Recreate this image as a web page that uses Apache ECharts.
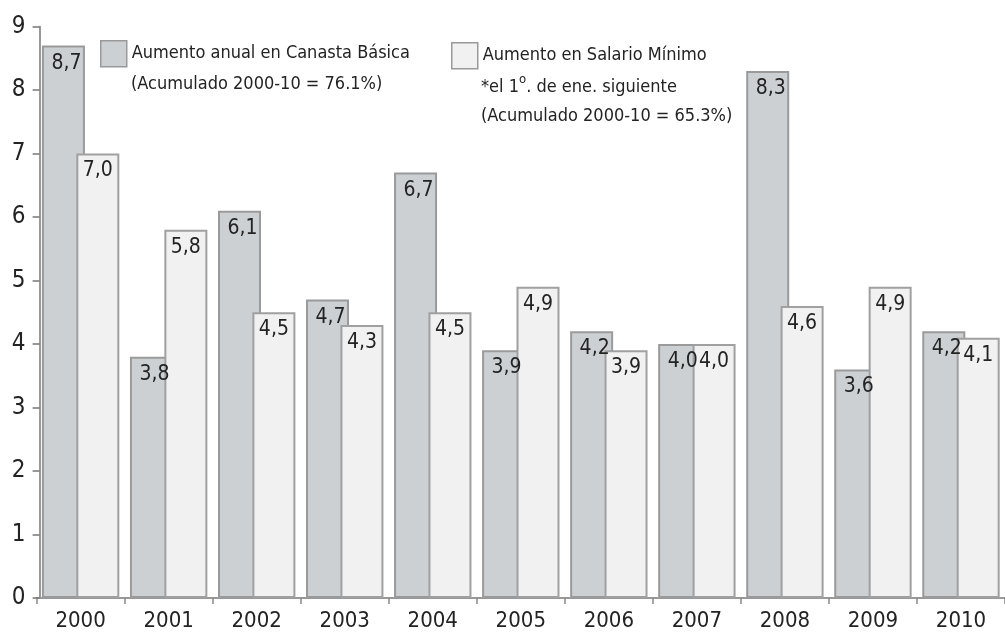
<!DOCTYPE html>
<html>
<head>
<meta charset="utf-8">
<script src="https://cdn.jsdelivr.net/npm/echarts@6/dist/echarts.min.js"></script>
<style>
html,body{margin:0;padding:0;background:#fff;}
#c{width:1005px;height:635px;}
</style>
</head>
<body>
<div id="c"></div>
<script>
var years = ['2000','2001','2002','2003','2004','2005','2006','2007','2008','2009','2010'];
var canasta = [8.7, 3.8, 6.1, 4.7, 6.7, 3.9, 4.2, 4.0, 8.3, 3.6, 4.2];
var salario = [7.0, 5.8, 4.5, 4.3, 4.5, 4.9, 3.9, 4.0, 4.6, 4.9, 4.1];
var yTicks = [0, 1, 2, 3, 4, 5, 6, 7, 8, 9];
var nameCanasta = 'Aumento anual en Canasta Básica';
var nameSalario = 'Aumento en Salario Mínimo';
var legendCanasta = ['(Acumulado 2000-10 = 76.1%)'];
var legendSalario = ['*el 1{s|o}. de ene. siguiente', '(Acumulado 2000-10 = 65.3%)'];

var FONT = "'DejaVu Sans Condensed', 'Liberation Sans Narrow', sans-serif";
var TXT = '#232323';
var fmt = function (p) { return p.value.toFixed(1).replace('.', ','); };

var chart = echarts.init(document.getElementById('c'), null, {renderer: 'canvas'});
chart.setOption({
  animation: false,
  backgroundColor: '#ffffff',
  textStyle: {fontFamily: FONT},
  grid: {left: 36.6, top: 26.5, width: 972.5, height: 571.5},
  legend: [
    {
      data: [nameCanasta],
      left: 100, top: 40, padding: 0,
      itemWidth: 26, itemHeight: 26,
      icon: 'rect',
      itemStyle: {borderColor: '#999', borderWidth: 1.5},
      textStyle: {fontFamily: FONT, fontSize: 18, color: TXT}
    },
    {
      data: [nameSalario],
      left: 451, top: 42, padding: 0,
      itemWidth: 26, itemHeight: 26,
      icon: 'rect',
      itemStyle: {borderColor: '#999', borderWidth: 1.5},
      textStyle: {fontFamily: FONT, fontSize: 18, color: TXT}
    }
  ],
  graphic: [
    {
      type: 'text', left: 131, top: 70,
      style: {text: legendCanasta.join('\n'), font: '18px ' + FONT, fill: TXT, lineHeight: 28}
    },
    {
      type: 'text', left: 481, top: 73,
      style: {text: legendSalario.join('\n'), font: '18px ' + FONT, fill: TXT, lineHeight: 29,
        rich: {s: {fontFamily: FONT, fontSize: 13, fill: TXT, verticalAlign: 'top', lineHeight: 20}}}
    }
  ],
  xAxis: {
    type: 'category',
    data: years,
    axisLine: {lineStyle: {color: '#999', width: 2}},
    axisTick: {show: true, interval: 0, length: 6, lineStyle: {color: '#888', width: 1.5}},
    axisLabel: {fontFamily: FONT, fontSize: 22, color: TXT, margin: 12, interval: 0},
    splitLine: {show: false}
  },
  yAxis: {
    type: 'value',
    min: yTicks[0], max: yTicks[yTicks.length - 1], interval: 1,
    offset: -3,
    axisLine: {show: true, lineStyle: {color: '#777', width: 1.5}},
    axisTick: {show: true, length: 7, lineStyle: {color: '#777', width: 1.5}},
    axisLabel: {fontFamily: FONT, fontSize: 24, color: TXT, margin: 14},
    splitLine: {show: false}
  },
  series: [
    {
      name: nameCanasta,
      type: 'bar',
      data: canasta,
      barWidth: 43,
      barGap: '-20%',
      itemStyle: {color: '#cdd0d3', borderColor: '#9a9a9a', borderWidth: 2},
      label: {show: true, position: 'insideTop', distance: 7, offset: [3, 0], formatter: fmt,
        fontFamily: FONT, fontSize: 21, color: TXT}
    },
    {
      name: nameSalario,
      type: 'bar',
      data: salario,
      barWidth: 43,
      barGap: '-20%',
      itemStyle: {color: '#f1f1f1', borderColor: '#a0a0a0', borderWidth: 2},
      label: {show: true, position: 'insideTop', distance: 7, formatter: fmt,
        fontFamily: FONT, fontSize: 21, color: TXT}
    }
  ]
});
</script>
</body>
</html>
